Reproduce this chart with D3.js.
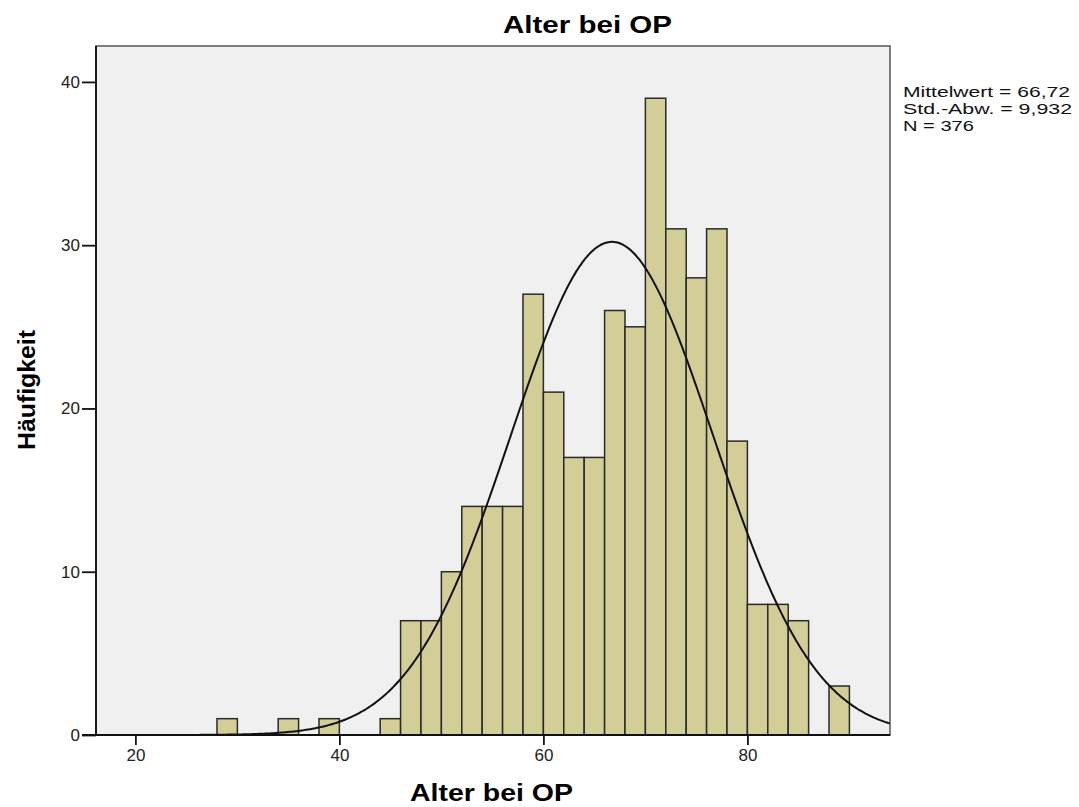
<!DOCTYPE html>
<html>
<head>
<meta charset="utf-8">
<script src="https://d3js.org/d3.v7.min.js"></script>
<style>
  body { margin: 0; background: #fff; }
  text { font-family: "Liberation Sans", Arial, sans-serif; }
</style>
</head>
<body>
<script>
// histogram bins (lower edge, width 2) and counts
var binStart = [28, 34, 38, 44, 46, 48, 50, 52, 54, 56, 58, 60, 62, 64, 66, 68, 70, 72, 74, 76, 78, 80, 82, 84, 86, 88];
var counts   = [1, 1, 1, 1, 7, 7, 10, 14, 14, 14, 27, 21, 17, 17, 26, 25, 39, 31, 28, 31, 18, 8, 8, 7, 0, 3];
var binWidth = 2;
var xTicks = [20, 40, 60, 80];
var yTicks = [0, 10, 20, 30, 40];
var mean = 66.72, sd = 9.932, n = 376;
var statLines = ["Mittelwert = 66,72", "Std.-Abw. = 9,932", "N = 376"];
var statWidths = [167, 169, 71];

var W = 1079, H = 807;
var pLeft = 96, pRight = 890, pTop = 46, pBottom = 735;

var svg = d3.select("body").append("svg").attr("width", W).attr("height", H);

var x = d3.scaleLinear().domain([16.14, 93.98]).range([pLeft, pRight]);
var y = d3.scaleLinear().domain([0, 42.2]).range([pBottom, pTop]);

// plot background
svg.append("rect")
  .attr("x", pLeft).attr("y", pTop)
  .attr("width", pRight - pLeft).attr("height", pBottom - pTop)
  .attr("fill", "#f0f0f0")
  .attr("stroke", "#555").attr("stroke-width", 1.5);

// bars
svg.selectAll("rect.bar")
  .data(binStart.map(function (b, i) { return { b: b, c: counts[i] }; }).filter(function (d) { return d.c > 0; }))
  .enter().append("rect")
  .attr("class", "bar")
  .attr("x", function (d) { return x(d.b); })
  .attr("width", function (d) { return x(d.b + binWidth) - x(d.b); })
  .attr("y", function (d) { return y(d.c); })
  .attr("height", function (d) { return y(0) - y(d.c); })
  .attr("fill", "#d3ce97")
  .attr("stroke", "#2a2a2a").attr("stroke-width", 1.5);

// normal curve
var scale = n * binWidth / (sd * Math.sqrt(2 * Math.PI));
var xs = d3.range(16.14, 94.0, 0.2);
var line = d3.line()
  .x(function (v) { return x(v); })
  .y(function (v) { var z = (v - mean) / sd; return y(scale * Math.exp(-0.5 * z * z)); })
  .curve(d3.curveBasis);
svg.append("path").datum(xs)
  .attr("d", line)
  .attr("fill", "none").attr("stroke", "#111").attr("stroke-width", 2);

// axes
var xAxis = d3.axisBottom(x).tickValues(xTicks).tickSize(10).tickSizeOuter(0);
var gx = svg.append("g").attr("transform", "translate(0," + pBottom + ")").call(xAxis);
gx.select(".domain").remove();
gx.append("line").attr("x1", pLeft - 14).attr("x2", pRight).attr("stroke", "#111").attr("stroke-width", 1.8);
gx.selectAll(".tick line").attr("stroke", "#111").attr("stroke-width", 1.8);
gx.selectAll(".tick text").attr("font-size", 17).attr("fill", "#222").attr("y", 14).attr("dy", "0.71em");

var yAxis = d3.axisLeft(y).tickValues(yTicks).tickSize(14).tickSizeOuter(0);
var gy = svg.append("g").attr("transform", "translate(" + pLeft + ",0)").call(yAxis);
gy.select(".domain").remove();
gy.append("line").attr("y1", pTop).attr("y2", pBottom).attr("stroke", "#111").attr("stroke-width", 1.8);
gy.selectAll(".tick line").attr("stroke", "#111").attr("stroke-width", 1.8);
gy.selectAll(".tick text").attr("font-size", 17).attr("fill", "#222").attr("x", -16);

// titles
svg.append("text").attr("x", 503).attr("y", 33)
  .attr("font-size", 24).attr("font-weight", "bold")
  .attr("textLength", 169).attr("lengthAdjust", "spacingAndGlyphs")
  .text("Alter bei OP");
svg.append("text").attr("x", 410).attr("y", 801)
  .attr("font-size", 23).attr("font-weight", "bold")
  .attr("textLength", 163).attr("lengthAdjust", "spacingAndGlyphs")
  .text("Alter bei OP");
svg.append("text")
  .attr("transform", "translate(35,450) rotate(-90)")
  .attr("font-size", 24).attr("font-weight", "bold")
  .attr("textLength", 120).attr("lengthAdjust", "spacingAndGlyphs")
  .text("Häufigkeit");

// statistics box text
svg.selectAll("text.stat").data(statLines).enter().append("text")
  .attr("class", "stat")
  .attr("x", 903).attr("y", function (d, i) { return 97 + i * 17; })
  .attr("font-size", 15).attr("fill", "#111")
  .attr("textLength", function (d, i) { return statWidths[i]; })
  .attr("lengthAdjust", "spacingAndGlyphs")
  .text(function (d) { return d; });
</script>
</body>
</html>
